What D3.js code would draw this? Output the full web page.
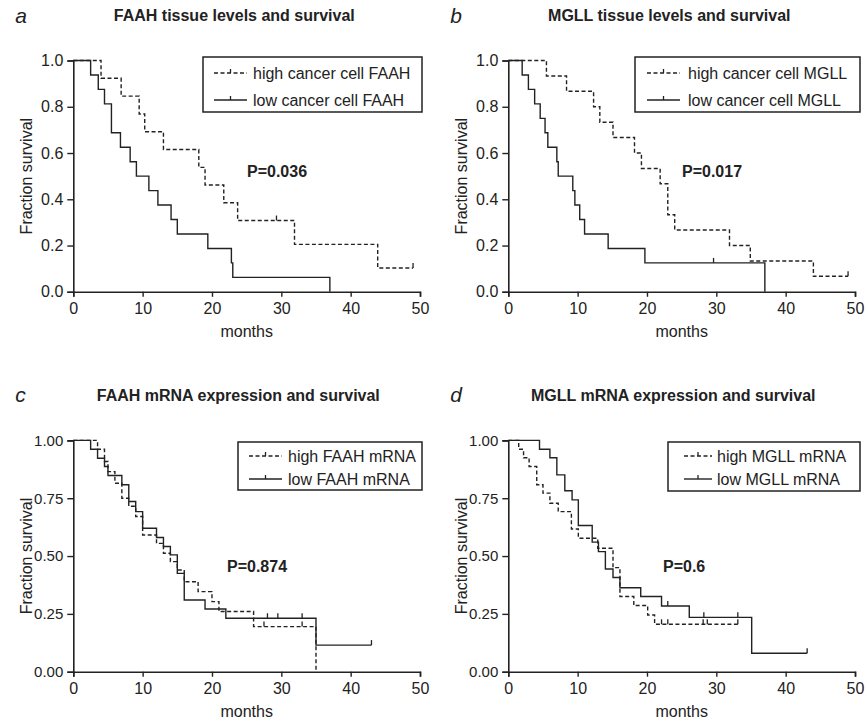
<!DOCTYPE html>
<html><head><meta charset="utf-8">
<script src="https://cdn.jsdelivr.net/npm/d3@7"></script>
<style>
body{margin:0;background:#fff;}
svg text{font-family:"Liberation Sans",Arial,Helvetica,sans-serif;fill:#222;}
</style></head>
<body><svg id="c" width="868" height="726"></svg>
<script>
// ---------- data ----------
const monthTicks = [0, 10, 20, 30, 40, 50];
const fracTicks1 = [0, 0.2, 0.4, 0.6, 0.8, 1.0];
const fracTicks2 = [0, 0.25, 0.5, 0.75, 1.0];

const panelLetters = ["a", "b", "c", "d"];
const panelTitles = ["FAAH tissue levels and survival", "MGLL tissue levels and survival",
  "FAAH mRNA expression and survival", "MGLL mRNA expression and survival"];
const pValues = ["P=0.036", "P=0.017", "P=0.874", "P=0.6"];
const highLabels = ["high cancer cell FAAH", "high cancer cell MGLL", "high FAAH mRNA", "high MGLL mRNA"];
const lowLabels = ["low cancer cell FAAH", "low cancer cell MGLL", "low FAAH mRNA", "low MGLL mRNA"];

// panel a
const aHighT = [4.0, 6.9, 9.5, 10.3, 13.0, 18.1, 19.0, 21.7, 23.7, 31.9, 43.9];
const aHighS = [0.923, 0.846, 0.769, 0.692, 0.615, 0.538, 0.462, 0.385, 0.308, 0.205, 0.103];
const aHighCens = [29.3, 49];
const aLowT = [2.5, 3.6, 4.5, 5.5, 6.8, 8.2, 9.1, 10.9, 12.2, 14.1, 15.0, 19.4, 22.8, 23.0, 37.0];
const aLowS = [0.9375, 0.875, 0.8125, 0.6875, 0.625, 0.5625, 0.5, 0.4375, 0.375, 0.3125, 0.25, 0.1875, 0.125, 0.0625, 0];
const aLowCens = [];
// panel b
const bHighT = [5.5, 8.4, 12.3, 13.2, 15.1, 18.2, 19.2, 21.9, 23.0, 24.0, 31.9, 34.9, 44.0];
const bHighS = [0.933, 0.867, 0.8, 0.733, 0.667, 0.6, 0.533, 0.467, 0.333, 0.267, 0.2, 0.133, 0.067];
const bHighCens = [49];
const bLowT = [2.0, 2.9, 3.8, 4.6, 5.3, 5.7, 7.0, 7.2, 9.3, 9.6, 10.3, 11.0, 14.4, 19.7, 37.0];
const bLowS = [0.9375, 0.875, 0.8125, 0.75, 0.6875, 0.625, 0.5625, 0.5, 0.4375, 0.375, 0.3125, 0.25, 0.1875, 0.125, 0];
const bLowCens = [29.6];
// panel c
const cHighT = [3.5, 4.5, 5.0, 6.0, 7.0, 8.0, 9.0, 10.0, 12.0, 13.0, 14.0, 15.0, 16.0, 18.0, 20.0, 21.0, 26.0, 35.0];
const cHighS = [0.962, 0.909, 0.865, 0.815, 0.75, 0.715, 0.671, 0.591, 0.555, 0.512, 0.476, 0.44, 0.389, 0.346, 0.303, 0.26, 0.195, 0];
const cHighCens = [27.5, 33];
const cLowT = [2.5, 3.5, 4.5, 5.0, 7.0, 8.0, 9.0, 10.0, 12.0, 13.0, 14.0, 15.0, 16.0, 19.0, 22.0, 35.0];
const cLowS = [0.962, 0.923, 0.887, 0.848, 0.808, 0.736, 0.692, 0.62, 0.58, 0.541, 0.505, 0.425, 0.31, 0.271, 0.231, 0.115];
const cLowCens = [28, 29.5, 33, 43];
// panel d
const dHighT = [1.5, 2.2, 3.0, 4.1, 5.0, 6.0, 7.2, 9.1, 10.1, 12.9, 15.1, 16.1, 18.1, 20.1, 21.1];
const dHighS = [0.962, 0.925, 0.887, 0.808, 0.772, 0.728, 0.692, 0.617, 0.577, 0.534, 0.45, 0.325, 0.286, 0.245, 0.205];
const dHighCens = [22.1, 23.0, 28.1, 28.7, 33.1];
const dLowT = [4.5, 6.0, 7.0, 8.15, 9.2, 10.1, 12.1, 13.0, 14.0, 15.1, 16.1, 19.1, 22.1, 26.1, 35.1];
const dLowS = [0.962, 0.925, 0.851, 0.782, 0.743, 0.632, 0.56, 0.519, 0.444, 0.407, 0.363, 0.325, 0.284, 0.235, 0.08];
const dLowCens = [23.0, 28.2, 33.1, 43.1];

// ---------- layout ----------
const svg = d3.select("#c");
const panels = [
  {L:73.3, T:60.5, hi:[aHighT,aHighS,aHighCens], lo:[aLowT,aLowS,aLowCens], ticks:fracTicks1, fmt:".1f", fs:16,
   leg:{x:203, y:57, w:219, h:55, sx:214, sw:33, tx:253, r1:79, r2:106}, p:{x:247, y:177}},
  {L:508.3, T:60.5, hi:[bHighT,bHighS,bHighCens], lo:[bLowT,bLowS,bLowCens], ticks:fracTicks1, fmt:".1f", fs:16,
   leg:{x:635, y:57, w:225, h:55, sx:647, sw:33, tx:688, r1:79, r2:106}, p:{x:682, y:177}},
  {L:73.3, T:440.4, hi:[cHighT,cHighS,cHighCens], lo:[cLowT,cLowS,cLowCens], ticks:fracTicks2, fmt:".2f", fs:15,
   leg:{x:238, y:442, w:184, h:48, sx:249, sw:33, tx:288, r1:462, r2:485}, p:{x:227, y:572}},
  {L:508.3, T:440.4, hi:[dHighT,dHighS,dHighCens], lo:[dLowT,dLowS,dLowCens], ticks:fracTicks2, fmt:".2f", fs:15,
   leg:{x:668, y:442, w:192, h:49, sx:684, sw:28, tx:717, r1:462, r2:485}, p:{x:663, y:572}}
];
const W = 346.7, H = 231.3;
const ink = "#222";

function stepPoints(T, S, end){
  const pts = [[0,1]];
  T.forEach((t,i)=>pts.push([t,S[i]]));
  const last = pts[pts.length-1];
  if (end > last[0]) pts.push([end, last[1]]);
  return pts;
}
function valueAt(T, S, t){
  let v = 1;
  T.forEach((tt,i)=>{ if (tt <= t) v = S[i]; });
  return v;
}

panels.forEach((p, k) => {
  const g = svg.append("g");
  const x = d3.scaleLinear().domain([0,50]).range([p.L, p.L+W]);
  const y = d3.scaleLinear().domain([0,1]).range([p.T+H, p.T]);

  // axes
  const xa = g.append("g").attr("transform", `translate(0,${p.T+H})`)
    .call(d3.axisBottom(x).tickValues(monthTicks).tickSizeOuter(0).tickSize(5).tickPadding(6));
  const ya = g.append("g").attr("transform", `translate(${p.L},0)`)
    .call(d3.axisLeft(y).tickValues(p.ticks).tickFormat(d3.format(p.fmt)).tickSizeOuter(0).tickSize(6).tickPadding(4));
  [xa, ya].forEach(a => {
    a.selectAll("path.domain").attr("stroke", ink).attr("stroke-width", 1.6);
    a.selectAll(".tick line").attr("stroke", ink).attr("stroke-width", 1.4);
    a.selectAll(".tick text").attr("fill", ink).style("font-size", "16px")
      .style("font-family", '"Liberation Sans",Arial,sans-serif');
  });
  ya.selectAll(".tick text").style("font-size", p.fs + "px");

  // axis titles
  g.append("text").attr("x", p.L + W/2).attr("y", p.T + H + 45).attr("text-anchor","middle")
    .style("font-size","16px").text("months");
  g.append("text").attr("transform", `translate(${p.L-41.5},${p.T+H/2}) rotate(-90)`).attr("text-anchor","middle")
    .style("font-size","16px").text("Fraction survival");

  // panel letter + title
  g.append("text").attr("x", p.L-58).attr("y", p.T-38).style("font-size","21px").style("font-style","italic").text(panelLetters[k]);
  g.append("text").attr("x", p.L + (k<2 ? 161 : 165)).attr("y", p.T-39.5).attr("text-anchor","middle")
    .style("font-size","16px").style("font-weight","bold").text(panelTitles[k]);

  // curves
  const line = d3.line().x(d=>x(d[0])).y(d=>y(d[1])).curve(d3.curveStepAfter);
  const series = [{d:p.hi, dash:"4,2.5"}, {d:p.lo, dash:null}];
  series.forEach(s => {
    const [T,S,C] = s.d;
    const end = Math.max(T[T.length-1], C.length ? d3.max(C) : 0);
    g.append("path").datum(stepPoints(T,S,end)).attr("d", line)
      .attr("fill","none").attr("stroke", ink).attr("stroke-width", 1.4)
      .attr("stroke-dasharray", s.dash);
    C.forEach(c => {
      const v = valueAt(T,S,c);
      g.append("line").attr("x1", x(c)).attr("x2", x(c)).attr("y1", y(v)).attr("y2", y(v)-5)
        .attr("stroke", ink).attr("stroke-width", 1.3);
    });
  });

  // legend
  const lg = p.leg;
  g.append("rect").attr("x", lg.x).attr("y", lg.y).attr("width", lg.w).attr("height", lg.h)
    .attr("fill","#fff").attr("stroke", ink).attr("stroke-width", 1.5);
  [[lg.r1, "4,2.5", highLabels[k]], [lg.r2, null, lowLabels[k]]].forEach(([ry, dash, lab]) => {
    const ly = ry - 6;
    g.append("line").attr("x1", lg.sx).attr("x2", lg.sx+lg.sw).attr("y1", ly).attr("y2", ly)
      .attr("stroke", ink).attr("stroke-width", 1.4).attr("stroke-dasharray", dash);
    g.append("line").attr("x1", lg.sx+lg.sw/2).attr("x2", lg.sx+lg.sw/2).attr("y1", ly).attr("y2", ly-4)
      .attr("stroke", ink).attr("stroke-width", 1.3);
    g.append("text").attr("x", lg.tx).attr("y", ry).style("font-size","16px").text(lab);
  });

  // p-value
  g.append("text").attr("x", p.p.x).attr("y", p.p.y).style("font-size","16px").style("font-weight","bold").text(pValues[k]);
});
</script></body></html>
